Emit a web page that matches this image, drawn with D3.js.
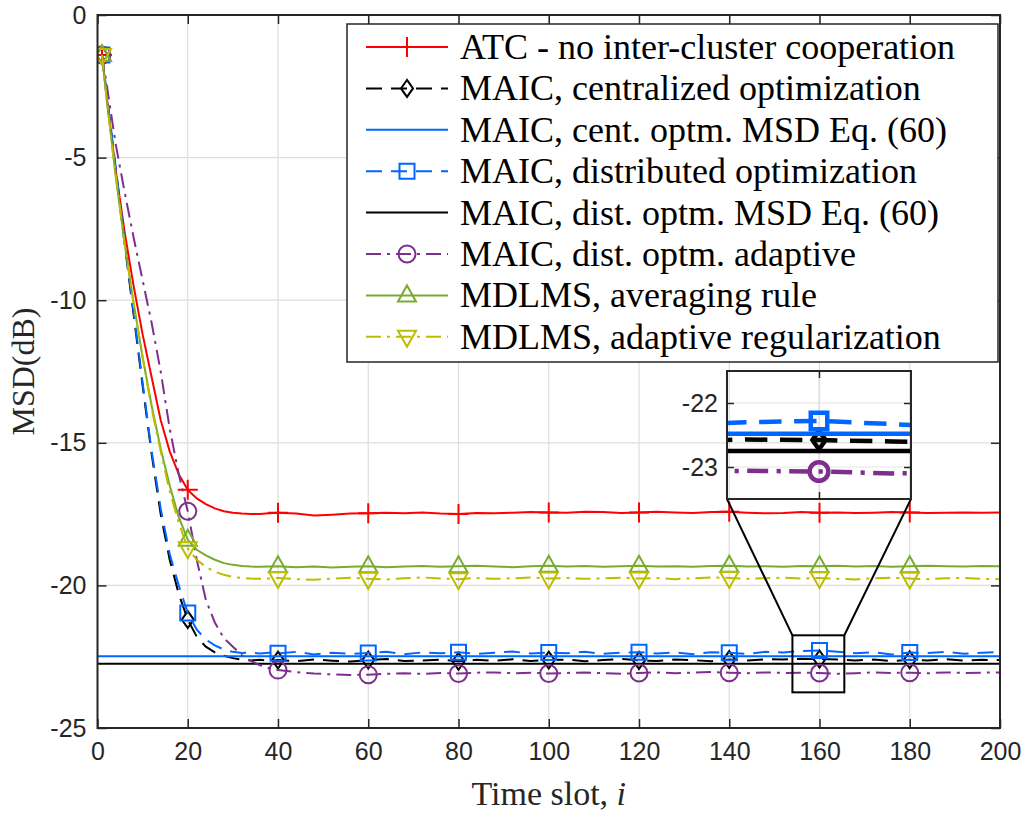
<!DOCTYPE html>
<html>
<head>
<meta charset="utf-8">
<script src="https://cdn.jsdelivr.net/npm/d3@7"></script>
<style>
body { margin: 0; background: #fff; }
svg { display: block; }
</style>
</head>
<body>
<script>
// time slots where the curves are sampled
var slots = [1,2,4,6,8,10,12,14,16,18,20,22,24,26,28,30,32,34,36,38,
  40,44,48,52,56,60,64,68,72,76,80,84,88,92,96,100,104,108,112,116,120,
  124,128,132,136,140,144,148,152,156,160,164,168,172,176,180,184,188,192,196,200];

var markerSlots = [1,20,40,60,80,100,120,140,160,180];

var atc = [-1.4,-2.8,-5.4,-7.6,-9.5,-11.2,-12.7,-14.2,-15.3,-16.1,-16.65,-16.95,-17.15,-17.3,-17.4,-17.45,-17.48,-17.5,-17.5,-17.47,
  -17.45,-17.48,-17.55,-17.52,-17.48,-17.47,-17.45,-17.47,-17.44,-17.48,-17.5,-17.46,-17.47,-17.45,-17.43,-17.44,-17.45,-17.42,-17.43,-17.46,-17.44,
  -17.42,-17.44,-17.46,-17.43,-17.42,-17.45,-17.47,-17.46,-17.43,-17.45,-17.44,-17.46,-17.45,-17.43,-17.44,-17.46,-17.45,-17.44,-17.45,-17.44];

var maicCent = [-1.4,-2.8,-5.4,-8.0,-10.5,-13.0,-15.4,-17.5,-19.1,-20.3,-21.2,-21.8,-22.15,-22.35,-22.47,-22.55,-22.6,-22.63,-22.61,-22.64,
  -22.62,-22.66,-22.6,-22.64,-22.67,-22.62,-22.58,-22.65,-22.63,-22.6,-22.66,-22.61,-22.64,-22.59,-22.65,-22.62,-22.6,-22.66,-22.62,-22.58,-22.63,
  -22.65,-22.6,-22.62,-22.66,-22.6,-22.63,-22.59,-22.6,-22.57,-22.58,-22.6,-22.63,-22.6,-22.65,-22.61,-22.63,-22.59,-22.64,-22.61,-22.62];

var maicCentEq = -22.48;

var maicDist = [-1.4,-2.7,-5.3,-7.9,-10.4,-12.9,-15.3,-17.3,-18.9,-20.0,-20.97,-21.55,-21.9,-22.1,-22.25,-22.33,-22.37,-22.35,-22.39,-22.36,
  -22.38,-22.33,-22.42,-22.36,-22.4,-22.37,-22.33,-22.41,-22.35,-22.38,-22.34,-22.4,-22.36,-22.32,-22.39,-22.35,-22.38,-22.33,-22.4,-22.36,-22.34,
  -22.39,-22.35,-22.41,-22.34,-22.36,-22.4,-22.33,-22.35,-22.3,-22.28,-22.33,-22.38,-22.34,-22.42,-22.35,-22.37,-22.33,-22.4,-22.36,-22.34];

var maicDistEq = -22.75;

var maicAdapt = [-1.4,-2.4,-4.5,-6.2,-7.8,-9.3,-10.8,-12.5,-14.5,-16.1,-17.4,-19.1,-20.5,-21.3,-21.85,-22.15,-22.45,-22.65,-22.8,-22.9,
  -22.97,-23.04,-23.09,-23.12,-23.14,-23.13,-23.1,-23.08,-23.1,-23.07,-23.09,-23.06,-23.05,-23.08,-23.06,-23.09,-23.07,-23.05,-23.08,-23.1,-23.07,
  -23.05,-23.08,-23.06,-23.04,-23.06,-23.08,-23.05,-23.07,-23.06,-23.07,-23.1,-23.08,-23.05,-23.07,-23.06,-23.08,-23.05,-23.07,-23.06,-23.05];

var mdlmsAvg = [-1.4,-2.9,-5.6,-8.0,-10.1,-12.0,-13.7,-15.2,-16.5,-17.6,-18.4,-18.75,-18.95,-19.1,-19.22,-19.28,-19.32,-19.34,-19.35,-19.34,
  -19.33,-19.36,-19.34,-19.37,-19.35,-19.33,-19.36,-19.34,-19.32,-19.35,-19.33,-19.31,-19.34,-19.36,-19.33,-19.31,-19.34,-19.32,-19.35,-19.33,-19.31,
  -19.34,-19.33,-19.35,-19.32,-19.31,-19.34,-19.33,-19.35,-19.32,-19.33,-19.31,-19.34,-19.32,-19.35,-19.33,-19.31,-19.33,-19.34,-19.32,-19.33];

var mdlmsReg = [-1.4,-2.9,-5.6,-8.0,-10.1,-12.0,-13.8,-15.3,-16.7,-17.8,-18.7,-19.1,-19.35,-19.52,-19.63,-19.7,-19.74,-19.76,-19.77,-19.76,
  -19.74,-19.78,-19.8,-19.76,-19.73,-19.77,-19.79,-19.75,-19.72,-19.76,-19.78,-19.74,-19.77,-19.75,-19.72,-19.76,-19.74,-19.77,-19.75,-19.73,-19.76,
  -19.74,-19.78,-19.75,-19.72,-19.74,-19.77,-19.75,-19.73,-19.76,-19.74,-19.77,-19.79,-19.75,-19.73,-19.76,-19.78,-19.75,-19.74,-19.77,-19.78];

var labels = ["ATC - no inter-cluster cooperation",
  "MAIC, centralized optimization",
  "MAIC, cent. optm. MSD Eq. (60)",
  "MAIC, distributed optimization",
  "MAIC, dist. optm. MSD Eq. (60)",
  "MAIC, dist. optm. adaptive",
  "MDLMS, averaging rule",
  "MDLMS, adaptive regularization"];

var xTicks = [0,20,40,60,80,100,120,140,160,180,200];
var yTicks = [0,-5,-10,-15,-20,-25];
var insetTicks = [-22,-23];

// zoomed window
var zoomX = [155,165], zoomY = [-23.5,-21.5];
var boxX = [154,165.5], boxY = [-23.75,-21.75];

var blue = "#0066ff";
var series = [
  {x: slots, v: atc, color: "#ff0000", dash: null, marker: "plus"},
  {x: slots, v: maicCent, color: "#000000", dash: "dash", marker: "diamond"},
  {x: [0,200], v: [maicCentEq, maicCentEq], color: blue, dash: null, marker: null},
  {x: slots, v: maicDist, color: blue, dash: "dash", marker: "square"},
  {x: [0,200], v: [maicDistEq, maicDistEq], color: "#000000", dash: null, marker: null},
  {x: slots, v: maicAdapt, color: "#7e2f8e", dash: "dashdot", marker: "circle"},
  {x: slots, v: mdlmsAvg, color: "#77ac30", dash: null, marker: "up"},
  {x: slots, v: mdlmsReg, color: "#bdbd00", dash: "dashdot", marker: "down"}
];

var margin = {top: 15, right: 30, bottom: 88, left: 97.5};
var width = 1030 - margin.left - margin.right;
var height = 816 - margin.top - margin.bottom;

var x = d3.scaleLinear().domain([0, 200]).range([0, width]);
var y = d3.scaleLinear().domain([-25, 0]).range([height, 0]);

var svg = d3.select("body").append("svg")
  .attr("width", 1030)
  .attr("height", 816);

var defs = svg.append("defs");
defs.append("clipPath").attr("id", "plotclip")
  .append("rect").attr("width", width).attr("height", height);

var g = svg.append("g")
  .attr("transform", "translate(" + margin.left + "," + margin.top + ")");

var axisColor = "#262626";

// grid
g.append("g").selectAll("line").data(xTicks.slice(1, -1)).enter().append("line")
  .attr("x1", function(d) { return x(d); }).attr("x2", function(d) { return x(d); })
  .attr("y1", 0).attr("y2", height)
  .attr("stroke", "#dedede").attr("stroke-width", 1.2);
g.append("g").selectAll("line").data(yTicks.slice(1, -1)).enter().append("line")
  .attr("y1", function(d) { return y(d); }).attr("y2", function(d) { return y(d); })
  .attr("x1", 0).attr("x2", width)
  .attr("stroke", "#dedede").attr("stroke-width", 1.2);

function dashFor(d, k) {
  if (d == "dash") return (16 * k) + "," + (9 * k);
  if (d == "dashdot") return (15 * k) + "," + (6 * k) + "," + (3 * k) + "," + (6 * k);
  return null;
}

function markerPath(type, s) {
  var h = s / 2;
  if (type == "plus") return "M" + (-h) + ",0H" + h + "M0," + (-h) + "V" + h;
  if (type == "diamond") return "M0," + (-h * 0.85) + "L" + (h * 0.6) + ",0L0," + (h * 0.85) + "L" + (-h * 0.6) + ",0Z";
  if (type == "square") { var q = h * 0.75; return "M" + (-q) + "," + (-q) + "H" + q + "V" + q + "H" + (-q) + "Z"; }
  if (type == "circle") { var r = h * 0.85; return "M" + (-r) + ",0A" + r + "," + r + " 0 1,0 " + r + ",0A" + r + "," + r + " 0 1,0 " + (-r) + ",0"; }
  if (type == "up") return "M0," + (-h) + "L" + (h * 0.9) + "," + (h * 0.6) + "L" + (-h * 0.9) + "," + (h * 0.6) + "Z";
  if (type == "down") return "M0," + h + "L" + (h * 0.9) + "," + (-h * 0.6) + "L" + (-h * 0.9) + "," + (-h * 0.6) + "Z";
  return "";
}

function drawSeries(parent, sx, sy, lw, dk, ms) {
  var line = d3.line()
    .x(function(p) { return sx(p[0]); })
    .y(function(p) { return sy(p[1]); });
  series.forEach(function(s) {
    var pts = s.x.map(function(t, i) { return [t, s.v[i]]; });
    parent.append("path")
      .attr("d", line(pts))
      .attr("fill", "none")
      .attr("stroke", s.color)
      .attr("stroke-width", lw)
      .attr("stroke-dasharray", dashFor(s.dash, dk));
    if (s.marker) {
      var mk = pts.filter(function(p) { return markerSlots.indexOf(p[0]) >= 0; });
      parent.selectAll(null).data(mk).enter().append("path")
        .attr("transform", function(p) { return "translate(" + sx(p[0]) + "," + sy(p[1]) + ")"; })
        .attr("d", markerPath(s.marker, ms))
        .attr("fill", "none")
        .attr("stroke", s.color)
        .attr("stroke-width", lw);
    }
  });
}

var plot = g.append("g").attr("clip-path", "url(#plotclip)");
drawSeries(plot, x, y, 2, 1, 20);

// axes, ticks pointing inward
g.append("g").attr("transform", "translate(0," + height + ")")
  .call(d3.axisBottom(x).tickValues(xTicks).tickSizeInner(-9).tickSizeOuter(0).tickPadding(14)
    .tickFormat(function(d) { return String(d); }));
g.append("g")
  .call(d3.axisTop(x).tickValues(xTicks).tickSizeInner(-9).tickSizeOuter(0).tickFormat(""));
g.append("g")
  .call(d3.axisLeft(y).tickValues(yTicks).tickSizeInner(-9).tickSizeOuter(0).tickPadding(11)
    .tickFormat(function(d) { return String(d); }));
g.append("g").attr("transform", "translate(" + width + ",0)")
  .call(d3.axisRight(y).tickValues(yTicks).tickSizeInner(-9).tickSizeOuter(0).tickFormat(""));
g.selectAll(".domain").remove();
g.selectAll(".tick line").attr("stroke", axisColor).attr("stroke-width", 1.5);
g.selectAll(".tick text")
  .attr("fill", axisColor)
  .style("font-family", "'Liberation Sans', Arial, sans-serif")
  .style("font-size", "25px");
g.append("rect").attr("width", width).attr("height", height)
  .attr("fill", "none").attr("stroke", axisColor).attr("stroke-width", 2);

// zoom box and connectors
var ix0 = 727 - margin.left, iy0 = 371 - margin.top, iw = 184, ih = 128;
g.append("rect")
  .attr("x", x(boxX[0])).attr("y", y(boxY[1]))
  .attr("width", x(boxX[1]) - x(boxX[0])).attr("height", y(boxY[0]) - y(boxY[1]))
  .attr("fill", "none").attr("stroke", "#000").attr("stroke-width", 2);
g.append("line")
  .attr("x1", x(boxX[0])).attr("y1", y(boxY[1]))
  .attr("x2", ix0).attr("y2", iy0 + ih)
  .attr("stroke", "#000").attr("stroke-width", 2);
g.append("line")
  .attr("x1", x(boxX[1])).attr("y1", y(boxY[1]))
  .attr("x2", ix0 + iw).attr("y2", iy0 + ih)
  .attr("stroke", "#000").attr("stroke-width", 2);

// inset
var ins = g.append("g").attr("transform", "translate(" + ix0 + "," + iy0 + ")");
var zx = d3.scaleLinear().domain(zoomX).range([0, iw]);
var zy = d3.scaleLinear().domain(zoomY).range([ih, 0]);
defs.append("clipPath").attr("id", "insclip")
  .append("rect").attr("width", iw).attr("height", ih);

ins.append("line").attr("x1", zx(160)).attr("x2", zx(160)).attr("y1", 0).attr("y2", ih)
  .attr("stroke", "#dedede").attr("stroke-width", 1.2);
ins.selectAll(null).data(insetTicks).enter().append("line")
  .attr("x1", 0).attr("x2", iw)
  .attr("y1", function(d) { return zy(d); }).attr("y2", function(d) { return zy(d); })
  .attr("stroke", "#e6e6e6").attr("stroke-width", 1.2);

var insPlot = ins.append("g").attr("clip-path", "url(#insclip)");
drawSeries(insPlot, zx, zy, 4.5, 1.4, 22);

ins.append("g")
  .call(d3.axisLeft(zy).tickValues(insetTicks).tickSizeInner(-7).tickSizeOuter(0).tickPadding(9)
    .tickFormat(function(d) { return String(d); }));
ins.append("g").attr("transform", "translate(" + iw + ",0)")
  .call(d3.axisRight(zy).tickValues(insetTicks).tickSizeInner(-7).tickSizeOuter(0).tickFormat(""));
ins.append("g")
  .call(d3.axisTop(zx).tickValues([160]).tickSizeInner(-7).tickSizeOuter(0).tickFormat(""));
ins.append("g").attr("transform", "translate(0," + ih + ")")
  .call(d3.axisBottom(zx).tickValues([160]).tickSizeInner(-7).tickSizeOuter(0).tickFormat(""));
ins.selectAll(".domain").remove();
ins.selectAll(".tick line").attr("stroke", axisColor).attr("stroke-width", 1.5);
ins.selectAll(".tick text")
  .attr("fill", axisColor)
  .style("font-family", "'Liberation Sans', Arial, sans-serif")
  .style("font-size", "25px");
ins.append("rect").attr("width", iw).attr("height", ih)
  .attr("fill", "none").attr("stroke", axisColor).attr("stroke-width", 2);

// legend
var leg = svg.append("g").attr("transform", "translate(347,24)");
leg.append("rect").attr("width", 651).attr("height", 338)
  .attr("fill", "#fff").attr("stroke", axisColor).attr("stroke-width", 1.5);
var rows = leg.selectAll(".row").data(series).enter().append("g")
  .attr("class", "row")
  .attr("transform", function(d, i) { return "translate(0," + (23 + i * 41.4) + ")"; });
rows.append("line")
  .attr("x1", 19).attr("x2", 101)
  .attr("stroke", function(d) { return d.color; })
  .attr("stroke-width", 2)
  .attr("stroke-dasharray", function(d) { return dashFor(d.dash, 1); });
rows.filter(function(d) { return d.marker; }).append("path")
  .attr("transform", "translate(60,0)")
  .attr("d", function(d) { return markerPath(d.marker, 20); })
  .attr("fill", "none")
  .attr("stroke", function(d) { return d.color; })
  .attr("stroke-width", 2);
rows.append("text")
  .attr("x", 113).attr("y", 12)
  .style("font-family", "'Liberation Serif', 'Times New Roman', serif")
  .style("font-size", "36px")
  .attr("fill", "#000")
  .text(function(d, i) { return labels[i]; });

// axis labels
var xl = svg.append("text")
  .attr("x", margin.left + width / 2).attr("y", 805)
  .attr("text-anchor", "middle")
  .style("font-family", "'Liberation Serif', 'Times New Roman', serif")
  .style("font-size", "34px")
  .attr("fill", axisColor);
xl.append("tspan").text("Time slot, ");
xl.append("tspan").style("font-style", "italic").text("i");

svg.append("text")
  .attr("transform", "translate(34," + (margin.top + height / 2) + ") rotate(-90)")
  .attr("text-anchor", "middle")
  .style("font-family", "'Liberation Serif', 'Times New Roman', serif")
  .style("font-size", "32px")
  .attr("fill", axisColor)
  .text("MSD(dB)");
</script>
</body>
</html>
